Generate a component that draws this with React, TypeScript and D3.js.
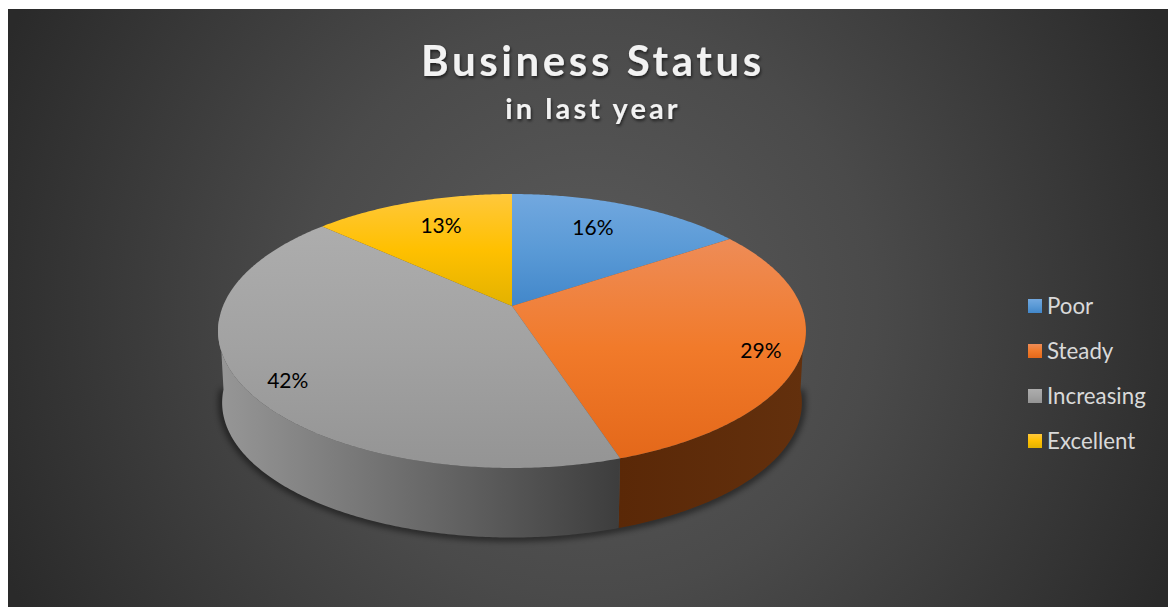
import React from "react";
import * as d3 from "d3";

const titleText = "Business Status";
const subtitleText = "in last year";
const categories = ["Poor", "Steady", "Increasing", "Excellent"];
const shares = [15.6, 29.4, 41.8, 13.2];
const shareLabels = ["16%", "29%", "42%", "13%"];

const W = 1168, H = 607;
const cx = 512;
const topPlane = { y0: 306, a: 289, b: 132.4, k: 0.1825 };
const floorPlane = { y0: 378, a: 285, b: 130.4, k: 0.1825 };
const labelRadius = [0.741, 0.869, 0.867, 0.743];
const labelTurn = [-3.0, 1.6, -2.9, 1.9].map((d) => (d * Math.PI) / 180);

const faceStops = [
  ["#72a8df", "#5a9ad6", "#4287ca"],
  ["#ee8c57", "#f17a2a", "#e4681a"],
  ["#adadad", "#a2a2a2", "#949494"],
  ["#ffc83c", "#ffc000", "#e3b200"],
];
const sideStops = [
  ["#2a4a6a", "#2a4a6a"],
  ["#5a2807", "#63300d"],
  ["#979797", "#3d3d3d"],
  ["#6a5200", "#6a5200"],
];

type Plane = typeof topPlane;
const project = (p: Plane, angle: number, r = 1): [number, number] => {
  const u = r * Math.sin(angle);
  const v = -r * Math.cos(angle);
  const d = 1 - p.k * v;
  return [cx + (p.a * u) / d, p.y0 + (p.b * v) / d];
};
const sweep = (a0: number, a1: number) => {
  const n = Math.max(2, Math.ceil(Math.abs(a1 - a0) / 0.01));
  return d3.range(n + 1).map((i) => a0 + ((a1 - a0) * i) / n);
};

export default function App() {
  const arcs = d3.pie<number>().sort(null).value((d) => d)(shares);
  const line = d3.line();
  const faces = arcs.map((s) => {
    const pts = sweep(s.startAngle, s.endAngle).map((a) => project(topPlane, a));
    return line([[cx, topPlane.y0], ...pts]) + "Z";
  });
  const visFrom = (95 * Math.PI) / 180;
  const visTo = (265 * Math.PI) / 180;
  const sides = arcs.map((s) => {
    const a0 = Math.max(s.startAngle, visFrom);
    const a1 = Math.min(s.endAngle, visTo);
    if (a1 <= a0) return null;
    const t = sweep(a0, a1);
    return (
      line([
        ...t.map((a) => project(topPlane, a)),
        ...t.slice().reverse().map((a) => project(floorPlane, a)),
      ]) + "Z"
    );
  });
  const rim = line(sweep(visFrom, visTo).map((a) => project(floorPlane, a)))!;
  const color = d3.scaleOrdinal<string, number>().domain(categories).range(d3.range(4));
  const legendY = d3.scalePoint().domain(categories).range([306, 441]);

  return (
    <svg
      width={W}
      height={H}
      viewBox={`0 0 ${W} ${H}`}
      style={{ position: "absolute", left: 0, top: 0, display: "block", background: "#fff" }}
    >
      <defs>
        <radialGradient id="bg" gradientUnits="userSpaceOnUse" cx={588} cy={308} r={640}>
          <stop offset="0" stopColor="#5b5b5b" />
          <stop offset="0.45" stopColor="#4a4a4a" />
          <stop offset="1" stopColor="#2a2a2a" />
        </radialGradient>
        {faceStops.map((c, i) => (
          <linearGradient key={i} id={`face${i}`} x1="0" y1="0" x2="0" y2="1">
            <stop offset="0" stopColor={c[0]} />
            <stop offset="0.5" stopColor={c[1]} />
            <stop offset="1" stopColor={c[2]} />
          </linearGradient>
        ))}
        {sideStops.map((c, i) => (
          <linearGradient key={i} id={`side${i}`} x1="0" y1="0" x2="1" y2="0">
            <stop offset="0" stopColor={c[0]} />
            <stop offset="1" stopColor={c[1]} />
          </linearGradient>
        ))}
        <filter id="blur" x="-10%" y="-10%" width="120%" height="120%">
          <feGaussianBlur stdDeviation="3.5" />
        </filter>
        <filter id="textShade" x="-10%" y="-30%" width="120%" height="160%">
          <feDropShadow dx="1" dy="2" stdDeviation="1.8" floodColor="#000" floodOpacity="0.6" />
        </filter>
      </defs>

      <rect x={8} y={9} width={W - 8} height={H - 9} fill="url(#bg)" />

      <g fontFamily="Lato, sans-serif" fontWeight={700} fill="#f2f2f2" textAnchor="middle" filter="url(#textShade)">
        <text x={593} y={76} fontSize={42} letterSpacing={3.6}>{titleText}</text>
        <text x={593} y={119} fontSize={29} letterSpacing={3.1}>{subtitleText}</text>
      </g>

      <path d={rim} fill="none" stroke="#000" strokeOpacity={0.75} strokeWidth={5} filter="url(#blur)" />
      {sides.map((d, i) => d && <path key={i} d={d} fill={`url(#side${i})`} />)}
      {faces.map((d, i) => (
        <path key={i} d={d} fill={`url(#face${i})`} />
      ))}

      <g fontFamily="Lato, sans-serif" fontSize={21} fill="#000" textAnchor="middle" dominantBaseline="central">
        {arcs.map((s, i) => {
          const mid = (s.startAngle + s.endAngle) / 2 + labelTurn[i];
          const [x, y] = project(topPlane, mid, labelRadius[i]);
          return (
            <text key={i} x={x} y={y}>{shareLabels[i]}</text>
          );
        })}
      </g>

      <g fontFamily="Lato, sans-serif" fontSize={22.3} fill="#d9d9d9">
        {categories.map((c) => (
          <g key={c} transform={`translate(0,${legendY(c)})`}>
            <rect x={1028} y={-7} width={14} height={14} fill={`url(#face${color(c)})`} />
            <text x={1047} y={8}>{c}</text>
          </g>
        ))}
      </g>
    </svg>
  );
}
